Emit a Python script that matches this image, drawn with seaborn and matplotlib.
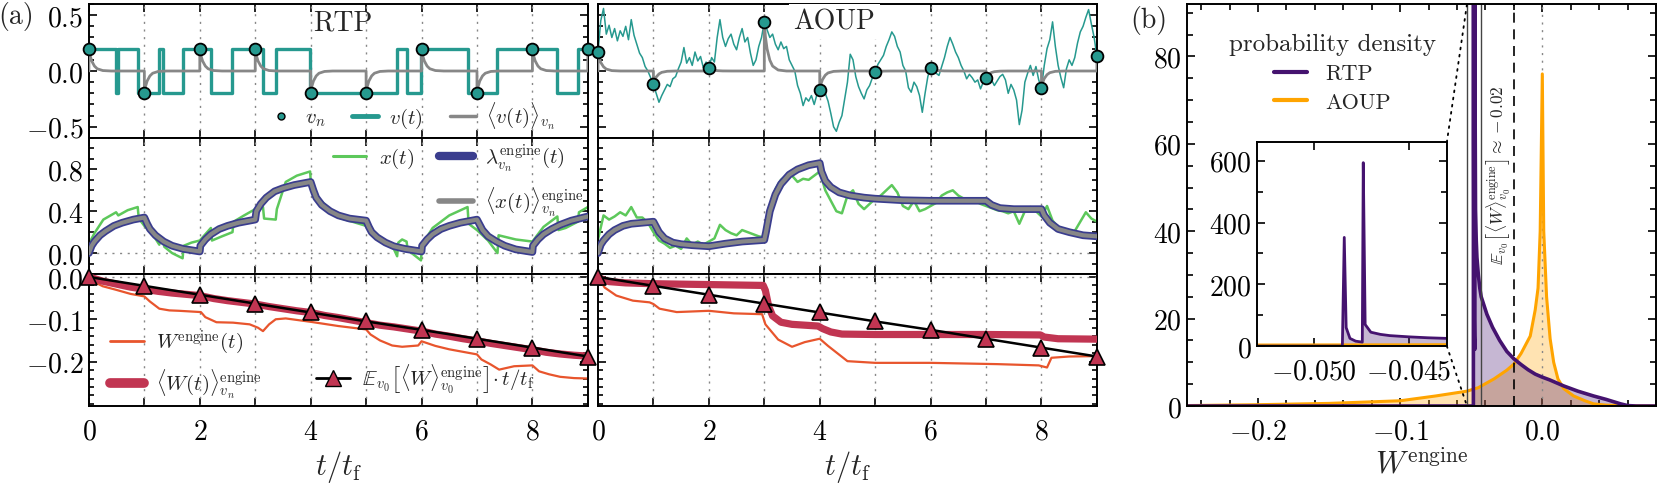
import numpy as np
import matplotlib
matplotlib.use("Agg")
import matplotlib.pyplot as plt
import seaborn as sns
from matplotlib.lines import Line2D
from matplotlib.patches import ConnectionPatch
from matplotlib.ticker import MultipleLocator, FixedLocator

sns.set_theme(style="ticks")
plt.rcParams.update({
    "font.family": "serif",
    "font.serif": ["cmr10"],
    "mathtext.fontset": "cm",
    "axes.formatter.use_mathtext": True,
    "font.size": 20,
    "axes.linewidth": 1.4,
    "axes.edgecolor": "black",
    "xtick.direction": "in",
    "ytick.direction": "in",
    "xtick.top": True,
    "ytick.right": True,
    "xtick.color": "black",
    "ytick.color": "black",
    "xtick.labelsize": 20,
    "ytick.labelsize": 20,
})

TEAL = "#26998f"
GRAY = "#878787"
GREEN = "#5dc85b"
NAVY = "#3a3d8e"
RED = "#e8552d"
CRIMSON = "#c13552"
PURPLE = "#45136f"
ORANGE = "#ffa400"

# ----------------------------------------------------------------------
# panel (a) data
# RTP velocity: switching times and the level after each switch
rtp_switch_t = [0.0, 0.49, 0.53, 0.88, 1.27, 1.33, 1.69, 2.20, 2.59, 3.14,
                3.37, 3.99, 5.56, 5.73, 5.99, 6.83, 7.37, 8.45, 8.82, 9.0]
rtp_switch_v = [0.2, -0.2, 0.2, -0.2, 0.2, -0.2, 0.2, -0.2, 0.2, -0.2,
                0.2, -0.2, 0.2, -0.2, 0.2, -0.2, 0.2, -0.2, 0.2, 0.2]
rtp_vn = [0.2, -0.2, 0.2, 0.2, -0.2, -0.2, 0.2, -0.2, 0.2, 0.2]
aoup_vn = [0.17, -0.12, 0.03, 0.44, -0.17, -0.01, 0.03, -0.06, -0.15, 0.13]
tn = [0, 1, 2, 3, 4, 5, 6, 7, 8, 9]

# shape of <v(t)> after each reset (time offset, fraction of v_n)
decay_dt = [0.0, 0.02, 0.05, 0.10, 0.15, 0.25, 0.40]
decay_frac = [1.0, 0.70, 0.45, 0.22, 0.10, 0.02, 0.0]

# AOUP velocity trace, sampled every 0.05 t_f
aoup_v = [
    0.17, 0.45, 0.56, 0.33, 0.41, 0.30, 0.38, 0.27, 0.36, 0.31,
    0.40, 0.28, 0.46, 0.32, 0.24, 0.16, 0.12, 0.04, 0.00, -0.06,
    -0.12, -0.20, -0.28, -0.22, -0.17, -0.12, -0.14, -0.07, -0.05, 0.02,
    0.08, 0.21, 0.07, 0.12, 0.05, 0.17, 0.09, 0.13, 0.03, 0.08,
    0.03, 0.12, 0.08, 0.30, 0.46, 0.30, 0.22, 0.29, 0.33, 0.24,
    0.19, 0.30, 0.38, 0.26, 0.30, 0.16, 0.05, 0.10, 0.22, 0.30,
    0.44, 0.37, 0.30, 0.33, 0.24, 0.19, 0.26, 0.20, 0.22, 0.10,
    0.05, 0.00, -0.13, -0.20, -0.31, -0.24, -0.27, -0.22, -0.30, -0.21,
    -0.17, -0.22, -0.20, -0.27, -0.38, -0.50, -0.54, -0.46, -0.40, -0.25,
    -0.10, 0.15, 0.10, -0.05, -0.14, -0.20, -0.25, -0.17, -0.13, -0.06,
    -0.01, 0.06, 0.10, 0.14, 0.22, 0.28, 0.35, 0.31, 0.22, 0.17,
    0.05, 0.00, -0.15, -0.19, -0.10, -0.14, -0.22, -0.37, -0.20, -0.05,
    0.03, 0.05, -0.02, -0.04, 0.04, 0.12, 0.22, 0.30, 0.24, 0.17,
    0.12, 0.05, 0.00, -0.07, -0.03, -0.06, -0.10, -0.08, -0.16, -0.10,
    -0.06, -0.10, -0.08, -0.13, -0.09, -0.05, -0.03, -0.08, -0.20, -0.12,
    -0.17, -0.26, -0.48, -0.35, -0.10, -0.02, 0.05, -0.04, 0.04, -0.08,
    -0.15, 0.05, 0.20, 0.28, 0.44, 0.22, 0.05, -0.06, -0.15, 0.02,
    0.10, 0.05, 0.12, 0.25, 0.35, 0.40, 0.48, 0.55, 0.42, 0.30,
    0.13,
]
aoup_v_t = np.linspace(0, 9, len(aoup_v))

# RTP position, protocol
rtp_x_t = [0.0, 0.1, 0.26, 0.49, 0.53, 0.7, 0.88, 0.9, 1.0, 1.15,
           1.27, 1.29, 1.33, 1.36, 1.5, 1.69, 1.71, 1.85, 2.0, 2.2,
           2.22, 2.4, 2.59, 2.61, 2.8, 3.0, 3.14, 3.16, 3.37, 3.39,
           3.55, 3.75, 3.99, 4.01, 4.15, 4.5, 5.0, 5.25, 5.5, 5.56,
           5.58, 5.65, 5.73, 5.75, 5.99, 6.01, 6.2, 6.5, 6.83, 6.85,
           7.0, 7.2, 7.37, 7.39, 7.7, 8.0, 8.2, 8.45, 8.47, 8.6,
           8.82, 8.84, 9.0]
rtp_x = [0.09, 0.19, 0.32, 0.39, 0.36, 0.41, 0.44, 0.33, 0.26, 0.18,
         0.08, 0.14, 0.13, 0.06, 0.00, -0.05, 0.07, 0.10, 0.12, 0.24,
         0.12, 0.16, 0.20, 0.30, 0.36, 0.42, 0.44, 0.33, 0.32, 0.42,
         0.68, 0.74, 0.78, 0.62, 0.52, 0.34, 0.26, 0.15, 0.04, -0.03,
         0.10, 0.13, 0.11, 0.03, -0.07, 0.08, 0.24, 0.36, 0.44, 0.28,
         0.22, 0.12, 0.00, 0.17, 0.13, 0.11, 0.25, 0.35, 0.22, 0.24,
         0.30, 0.39, 0.44]
rtp_lam_t = [0.0, 0.05, 0.1, 0.2, 0.3, 0.45, 0.6, 0.8, 1.0,
             1.05, 1.1, 1.2, 1.35, 1.5, 1.7, 2.0,
             2.01, 2.1, 2.2, 2.35, 2.5, 2.7, 3.0,
             3.02, 3.1, 3.2, 3.35, 3.5, 3.7, 4.0,
             4.05, 4.1, 4.2, 4.35, 4.5, 4.7, 5.0,
             5.05, 5.1, 5.2, 5.35, 5.5, 5.7, 6.0,
             6.01, 6.1, 6.2, 6.35, 6.5, 6.7, 7.0,
             7.05, 7.1, 7.2, 7.35, 7.5, 7.7, 8.0,
             8.01, 8.1, 8.2, 8.35, 8.5, 8.7, 9.0]
rtp_lam = [0.0, 0.07, 0.11, 0.17, 0.21, 0.26, 0.29, 0.32, 0.34,
           0.28, 0.23, 0.17, 0.11, 0.07, 0.04, 0.015,
           0.07, 0.13, 0.18, 0.23, 0.26, 0.29, 0.32,
           0.40, 0.47, 0.53, 0.59, 0.62, 0.65, 0.68,
           0.60, 0.53, 0.46, 0.40, 0.36, 0.33, 0.31,
           0.25, 0.20, 0.15, 0.10, 0.065, 0.04, 0.015,
           0.07, 0.13, 0.18, 0.23, 0.26, 0.29, 0.32,
           0.27, 0.22, 0.16, 0.11, 0.07, 0.035, 0.01,
           0.07, 0.13, 0.18, 0.23, 0.27, 0.31, 0.35]

# AOUP position (every 0.1 t_f), protocol
aoup_x = [
    0.13, 0.36, 0.32, 0.35, 0.39, 0.36, 0.44, 0.34, 0.34, 0.29,
    0.20, 0.12, 0.09, 0.05, 0.07, 0.04, 0.14, 0.08, 0.11, 0.08,
    0.11, 0.14, 0.27, 0.22, 0.19, 0.17, 0.22, 0.20, 0.18, 0.16,
    0.15, 0.42, 0.61, 0.70, 0.74, 0.74, 0.68, 0.71, 0.70, 0.74,
    0.78, 0.60, 0.50, 0.40, 0.38, 0.55, 0.60, 0.47, 0.42, 0.47,
    0.52, 0.55, 0.60, 0.65, 0.58, 0.45, 0.42, 0.50, 0.40, 0.42,
    0.45, 0.48, 0.55, 0.58, 0.60, 0.55, 0.52, 0.50, 0.50, 0.47,
    0.45, 0.43, 0.41, 0.40, 0.38, 0.40, 0.28, 0.40, 0.44, 0.40,
    0.35, 0.45, 0.31, 0.25, 0.22, 0.19, 0.21, 0.30, 0.39, 0.33,
    0.30,
]
aoup_x_t = np.linspace(0, 9, len(aoup_x))
aoup_lam_t = [0.0, 0.05, 0.1, 0.2, 0.3, 0.45, 0.6, 0.8, 1.0, 1.05, 1.1, 1.2,
              1.35, 1.5, 1.7, 2.0, 2.3, 2.6, 3.0, 3.03, 3.1, 3.2, 3.3, 3.45,
              3.6, 3.8, 4.0, 4.03, 4.1, 4.2, 4.35, 4.55, 4.8, 5.0, 5.5, 6.0,
              6.5, 7.0, 7.1, 7.25, 7.5, 8.0, 8.05, 8.15, 8.3, 8.5, 8.75, 9.0]
aoup_lam = [0.0, 0.08, 0.12, 0.18, 0.22, 0.26, 0.28, 0.29, 0.30, 0.25, 0.20, 0.14,
            0.10, 0.085, 0.075, 0.065, 0.09, 0.11, 0.125, 0.20, 0.40, 0.56, 0.66, 0.75,
            0.80, 0.84, 0.86, 0.78, 0.69, 0.63, 0.58, 0.55, 0.53, 0.52, 0.505, 0.50,
            0.50, 0.50, 0.46, 0.43, 0.42, 0.42, 0.36, 0.29, 0.23, 0.20, 0.17, 0.16]

# work
rtp_w_t = [0, 0.1, 0.25, 0.48, 0.75, 1.0, 1.1, 1.27, 1.45, 1.63, 2.02, 2.1, 2.3,
           2.6, 2.9, 3.05, 3.14, 3.25, 3.37, 3.55, 4.0, 4.5, 5.0, 5.08, 5.25, 5.47,
           5.65, 5.94, 6.0, 6.25, 6.5, 7.0, 7.08, 7.25, 7.4, 7.67, 8.0, 8.12, 8.3,
           8.5, 8.75, 9.0]
rtp_w = [0, -0.012, -0.022, -0.030, -0.040, -0.046, -0.058, -0.075, -0.079, -0.080,
         -0.083, -0.095, -0.107, -0.108, -0.112, -0.120, -0.128, -0.112, -0.100,
         -0.098, -0.106, -0.116, -0.124, -0.136, -0.150, -0.162, -0.165, -0.162,
         -0.152, -0.163, -0.171, -0.183, -0.195, -0.207, -0.219, -0.211, -0.209,
         -0.223, -0.230, -0.236, -0.239, -0.240]
rtp_wmean = [0, -0.010, -0.017, -0.024, -0.029, -0.034, -0.038, -0.041, -0.044,
             -0.051, -0.056, -0.060, -0.064, -0.070, -0.075, -0.080, -0.084,
             -0.091, -0.096, -0.102, -0.108, -0.114, -0.118, -0.123, -0.128,
             -0.135, -0.140, -0.146, -0.151, -0.157, -0.162, -0.167, -0.172,
             -0.178, -0.182, -0.185, -0.187]
rtp_wmean_t = np.linspace(0, 9, len(rtp_wmean))
aoup_w_t = [0, 0.12, 0.33, 0.63, 0.93, 1.0, 1.11, 1.42, 2.0, 2.45, 2.96, 3.02, 3.25,
            3.5, 3.73, 4.0, 4.15, 4.5, 5.0, 6.0, 7.2, 7.95, 8.1, 8.18, 8.5, 9.0]
aoup_w = [0, -0.025, -0.044, -0.056, -0.060, -0.064, -0.075, -0.083, -0.080, -0.086,
          -0.088, -0.112, -0.148, -0.165, -0.154, -0.146, -0.163, -0.199, -0.203,
          -0.203, -0.206, -0.209, -0.214, -0.191, -0.188, -0.187]
aoup_wmean_t = [0, 0.1, 0.2, 0.5, 1.0, 2.0, 2.98, 3.02, 3.08, 3.15, 3.3, 3.5, 3.97,
                4.05, 4.2, 4.4, 5.0, 6.0, 7.0, 7.98, 8.05, 8.3, 9.0]
aoup_wmean = [0, -0.007, -0.011, -0.014, -0.016, -0.018, -0.020, -0.032, -0.070,
              -0.092, -0.107, -0.112, -0.116, -0.122, -0.130, -0.135, -0.136,
              -0.136, -0.136, -0.137, -0.142, -0.146, -0.147]
w_expect = [0, -0.021, -0.042, -0.063, -0.084, -0.105, -0.125, -0.146, -0.167, -0.188]

# ----------------------------------------------------------------------
# panel (b) data
rtp_pdf_w = [-0.25, -0.0485, -0.0484, -0.0483, -0.0481, -0.0478, -0.04745, -0.0474,
             -0.0473, -0.0470, -0.0465, -0.046, -0.045, -0.044, -0.043, -0.041,
             -0.039, -0.035, -0.03, -0.025, -0.02, -0.015, -0.01, -0.005, 0.0,
             0.005, 0.01, 0.015, 0.02, 0.025, 0.03, 0.036, 0.045, 0.05, 0.055,
             0.06, 0.066, 0.08]
rtp_pdf = [0, 0, 352, 60, 25, 16, 13, 594, 70, 45, 38, 34, 30, 27, 25, 23, 21, 18,
           15, 12.5, 10.8, 9.5, 8.3, 7.3, 6.6, 6.0, 5.3, 4.6, 4.0, 3.4, 2.9, 2.3,
           1.5, 1.0, 0.5, 0.1, 0, 0]
aoup_pdf_w = [-0.25, -0.2, -0.15, -0.1, -0.075, -0.053, -0.045, -0.034, -0.025,
              -0.02, -0.015, -0.0085, -0.005, -0.003, -0.0015, 0.0, 0.001, 0.003,
              0.0055, 0.008, 0.011, 0.015, 0.022, 0.03, 0.036, 0.045, 0.06, 0.08]
aoup_pdf = [0.1, 0.3, 0.6, 1.2, 2.3, 3.4, 4.2, 6.2, 8.2, 9.6, 12, 16, 22, 27, 40,
            76, 40, 25, 15.4, 10, 6.2, 4, 2.3, 1.2, 0.5, 0.2, 0.05, 0]
zoom_lo, zoom_hi = -0.053, -0.043
w_mean_val = -0.02


def mean_velocity(vn):
    tt, vv = [], []
    for n, val in zip(tn, vn):
        tt.append(n)
        vv.append(0.0)
        tt += [n + d for d in decay_dt]
        vv += [val * f for f in decay_frac]
    return np.array(tt), np.array(vv)


def style_row(ax, row, left_labels):
    ax.set_xlim(0, 9)
    ax.xaxis.set_major_locator(MultipleLocator(2))
    ax.xaxis.set_minor_locator(MultipleLocator(1))
    if row == 0:
        ax.set_ylim(-0.6, 0.6)
        ax.yaxis.set_major_locator(FixedLocator([-0.5, 0.0, 0.5]))
        ax.yaxis.set_minor_locator(MultipleLocator(0.1))
    elif row == 1:
        ax.set_ylim(-0.2, 1.1)
        ax.yaxis.set_major_locator(FixedLocator([0.0, 0.4, 0.8]))
        ax.yaxis.set_minor_locator(MultipleLocator(0.1))
        ax.axhline(0, color=GRAY, lw=1.0, ls=(0, (1.5, 4)), zorder=1)
    else:
        ax.set_ylim(-0.305, 0.007)
        ax.yaxis.set_major_locator(FixedLocator([-0.2, -0.1, 0.0]))
        ax.yaxis.set_minor_locator(MultipleLocator(0.02))
        ax.axhline(0, color=GRAY, lw=1.0, ls=(0, (1.5, 4)), zorder=1)
    for k in range(1, 9):
        ax.axvline(k, color=GRAY, lw=1.0, ls=(0, (1.5, 4)), zorder=1)
    ax.tick_params(which="both", direction="in", top=True, right=True, width=1.2)
    ax.tick_params(axis="x", which="both", length=6, pad=9)
    ax.tick_params(axis="y", which="major", length=6, pad=4)
    ax.tick_params(axis="y", which="minor", length=3.5)
    if not left_labels:
        ax.tick_params(axis="y", labelleft=False)
    if row < 2:
        ax.tick_params(axis="x", labelbottom=False)
    else:
        ax.set_xlabel(r"$t/t_{\rm f}$", fontsize=22, labelpad=2)


fig = plt.figure(figsize=(16.62, 4.85), dpi=100)
lefts = [0.0535, 0.3598]
width = 0.3002
bottoms = [0.7134, 0.433, 0.1608]
heights = [0.2763, 0.2804, 0.2722]
axes = [[fig.add_axes([l, b, width, h]) for l in lefts] for b, h in zip(bottoms, heights)]

blank = Line2D([], [], color="none")

# ----------------------------------------------------------
# row 1: velocities
ax = axes[0][0]
ax.plot(rtp_switch_t, rtp_switch_v, color=TEAL, lw=2.4, drawstyle="steps-post", zorder=2)
mt, mv = mean_velocity(rtp_vn)
sns.lineplot(x=mt, y=mv, ax=ax, color=GRAY, lw=2.0, estimator=None, sort=False, zorder=3)
sns.scatterplot(x=tn, y=rtp_vn, ax=ax, color=TEAL, s=72, edgecolor="black",
                linewidth=1.3, zorder=5, clip_on=False)
ax.text(0.509, 0.865, "RTP", transform=ax.transAxes, ha="center", va="center", fontsize=20)
hnd = [Line2D([], [], marker="o", ls="", mfc=TEAL, mec="black", ms=5, mew=1),
       Line2D([], [], color=TEAL, lw=3.5),
       Line2D([], [], color=GRAY, lw=2.5)]
ax.legend(hnd, [r"$v_n$", r"$v(t)$", r"$\langle v(t)\rangle_{v_n}$"], ncol=3,
          loc="center right", bbox_to_anchor=(0.96, 0.17), frameon=False, fontsize=15,
          handlelength=1.25, handletextpad=0.5, columnspacing=1.3, borderpad=0.1)

ax = axes[0][1]
sns.lineplot(x=aoup_v_t, y=aoup_v, ax=ax, color=TEAL, lw=1.1, estimator=None, sort=False, zorder=2)
mt, mv = mean_velocity(aoup_vn)
sns.lineplot(x=mt, y=mv, ax=ax, color=GRAY, lw=2.0, estimator=None, sort=False, zorder=3)
sns.scatterplot(x=tn, y=aoup_vn, ax=ax, color=TEAL, s=72, edgecolor="black",
                linewidth=1.3, zorder=5, clip_on=False)
ax.text(0.474, 0.87, "AOUP", transform=ax.transAxes, ha="center", va="center", fontsize=20,
        bbox=dict(facecolor="white", edgecolor="none", pad=3), zorder=6)

# ----------------------------------------------------------
# row 2: positions
for ax, xt, xv, lt, lv in [(axes[1][0], rtp_x_t, rtp_x, rtp_lam_t, rtp_lam),
                           (axes[1][1], aoup_x_t, aoup_x, aoup_lam_t, aoup_lam)]:
    sns.lineplot(x=xt, y=xv, ax=ax, color=GREEN, lw=1.8, estimator=None, sort=False, zorder=2)
    sns.lineplot(x=lt, y=lv, ax=ax, color=NAVY, lw=5.5, estimator=None, sort=False, zorder=3)
    sns.lineplot(x=lt, y=lv, ax=ax, color=GRAY, lw=3.0, estimator=None, sort=False, zorder=4)

hnd = [Line2D([], [], color=GREEN, lw=2.2), blank,
       Line2D([], [], color=NAVY, lw=6), Line2D([], [], color=GRAY, lw=4)]
axes[1][0].legend(hnd, [r"$x(t)$", "", r"$\lambda^{\rm engine}_{v_n}(t)$",
                        r"$\langle x(t)\rangle^{\rm engine}_{v_n}$"],
                  ncol=2, loc="center", bbox_to_anchor=(0.74, 0.69), frameon=False,
                  fontsize=15, handlelength=1.6, handletextpad=0.6, columnspacing=1.2,
                  labelspacing=0.55, borderpad=0.1)

# ----------------------------------------------------------
# row 3: work
for ax, wt, wv, mt_, mw in [(axes[2][0], rtp_w_t, rtp_w, rtp_wmean_t, rtp_wmean),
                            (axes[2][1], aoup_w_t, aoup_w, aoup_wmean_t, aoup_wmean)]:
    sns.lineplot(x=wt, y=wv, ax=ax, color=RED, lw=1.6, estimator=None, sort=False, zorder=2)
    sns.lineplot(x=mt_, y=mw, ax=ax, color=CRIMSON, lw=5.2, estimator=None, sort=False, zorder=3)
    ax.plot(tn, w_expect, color="black", lw=1.8, marker="^", ms=11.5, mfc=CRIMSON,
            mec="black", mew=1.2, zorder=4, clip_on=False)

hnd = [Line2D([], [], color=RED, lw=2.0), Line2D([], [], color=CRIMSON, lw=7), blank,
       Line2D([], [], color="black", lw=2, marker="^", ms=11, mfc=CRIMSON, mec="black")]
axes[2][0].legend(hnd, [r"$W^{\rm engine}(t)$", r"$\langle W(t)\rangle^{\rm engine}_{v_n}$", "",
                        r"$\mathbb{E}_{v_0}\left[\langle W\rangle^{\rm engine}_{v_0}\right]\!\cdot t/t_{\rm f}$"],
                  ncol=2, loc="center", bbox_to_anchor=(0.468, 0.32), frameon=False,
                  fontsize=15, handlelength=1.6, handletextpad=0.6, columnspacing=2.6,
                  labelspacing=0.5, borderpad=0.1)

for r in range(3):
    style_row(axes[r][0], r, True)
    style_row(axes[r][1], r, False)

# ----------------------------------------------------------
# panel (b): work distributions
axb = fig.add_axes([0.7142, 0.1608, 0.2822, 0.8289])
axb.fill_between(aoup_pdf_w, aoup_pdf, color=ORANGE, alpha=0.3, lw=0)
axb.fill_between(rtp_pdf_w, rtp_pdf, color=PURPLE, alpha=0.3, lw=0)
sns.lineplot(x=aoup_pdf_w, y=aoup_pdf, ax=axb, color=ORANGE, lw=2.2, estimator=None, sort=False)
sns.lineplot(x=rtp_pdf_w, y=rtp_pdf, ax=axb, color=PURPLE, lw=2.6, estimator=None, sort=False)
axb.axvline(0, color=GRAY, lw=1.0, ls=(0, (1.5, 4)), zorder=1)
axb.axvline(w_mean_val, color="black", lw=1.2, ls=(0, (6, 4)))
for xz in (zoom_lo, zoom_hi):
    axb.axvline(xz, color="#444444", lw=1.0)
axb.set_xlim(-0.25, 0.08)
axb.set_ylim(0, 92)
axb.xaxis.set_major_locator(FixedLocator([-0.2, -0.1, 0.0]))
axb.xaxis.set_minor_locator(MultipleLocator(0.02))
axb.yaxis.set_major_locator(MultipleLocator(20))
axb.yaxis.set_minor_locator(MultipleLocator(5))
axb.tick_params(which="both", direction="in", top=True, right=True, width=1.2)
axb.tick_params(which="major", length=6)
axb.tick_params(which="minor", length=4)
axb.tick_params(axis="x", pad=9)
axb.set_xlabel(r"$W^{\rm engine}$", fontsize=22, labelpad=2)
axb.text(-0.031, 53, r"$\mathbb{E}_{v_0}\left[\langle W\rangle^{\rm engine}_{v_0}\right]\approx -0.02$",
         rotation=90, ha="center", va="center", fontsize=12.5)
hnd = [Line2D([], [], color=PURPLE, lw=3), Line2D([], [], color=ORANGE, lw=3)]
axb.legend(hnd, ["RTP", "AOUP"], title="probability density", loc="center",
           bbox_to_anchor=(0.31, 0.83), frameon=False, fontsize=16, title_fontsize=18,
           handlelength=1.5, handletextpad=0.8, labelspacing=0.4)

axins = axb.inset_axes([0.149, 0.149, 0.405, 0.507])
axins.fill_between(rtp_pdf_w, rtp_pdf, color=PURPLE, alpha=0.3, lw=0)
axins.plot(aoup_pdf_w, aoup_pdf, color=ORANGE, lw=2.2)
axins.plot(rtp_pdf_w, rtp_pdf, color=PURPLE, lw=2.0)
axins.set_xlim(zoom_lo, zoom_hi)
axins.set_ylim(0, 660)
axins.set_xticks([-0.05, -0.045])
axins.set_xticklabels([r"$-0.050$", r"$-0.045$"])
axins.yaxis.set_major_locator(MultipleLocator(200))
axins.yaxis.set_minor_locator(MultipleLocator(100))
axins.tick_params(which="both", direction="in", top=True, right=True, width=1.2)
axins.tick_params(which="major", length=6, labelsize=20)
axins.tick_params(which="minor", length=4)
axins.tick_params(axis="x", pad=9)
for sp in axins.spines.values():
    sp.set_linewidth(1.4)

for ya, yb in [(1, 92), (0, 0)]:
    con = ConnectionPatch(xyA=(1, ya), coordsA=axins.transAxes, xyB=(zoom_lo, yb),
                          coordsB=axb.transData, color="black", lw=1.3, ls=(0, (1, 3)))
    fig.add_artist(con)

fig.text(0.0096, 0.967, "(a)", ha="center", va="center", fontsize=20)
fig.text(0.691, 0.957, "(b)", ha="center", va="center", fontsize=20)

fig.savefig("out.png", dpi=100)
